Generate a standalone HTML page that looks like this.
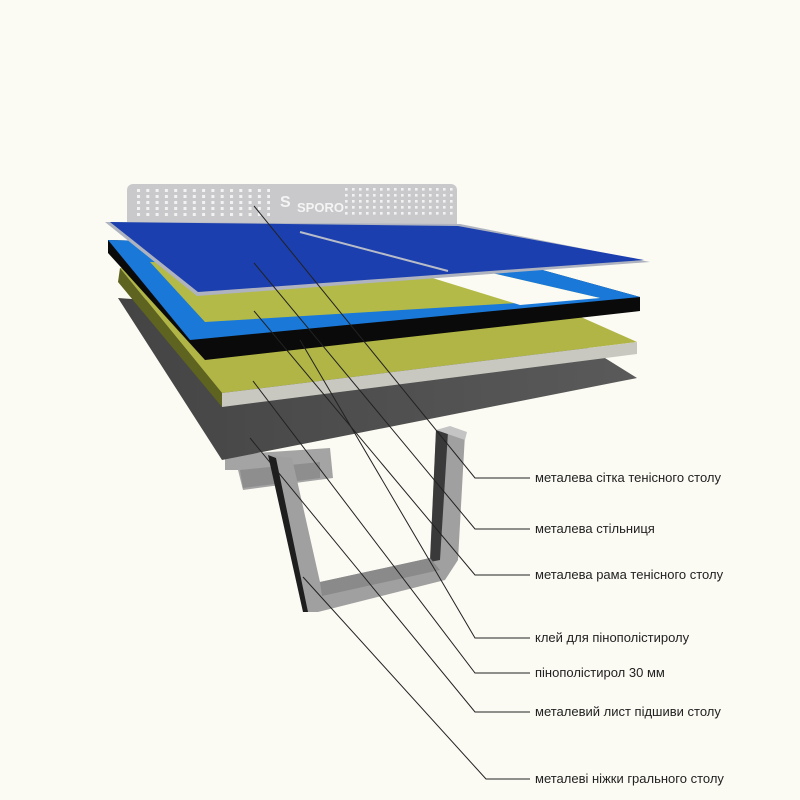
<!DOCTYPE html>
<html><head><meta charset="utf-8"><style>
body{margin:0;background:#fbfaf3;}
svg{display:block}
text{font-family:"Liberation Sans","DejaVu Sans",sans-serif;font-size:13px;fill:#222}
</style></head><body>
<svg width="800" height="800" viewBox="0 0 800 800" xmlns="http://www.w3.org/2000/svg">
<defs>
<pattern id="dl" x="137" y="189" width="9.3" height="6" patternUnits="userSpaceOnUse"><rect width="3" height="3" fill="#f2f2f2"/></pattern>
<pattern id="dr" x="345" y="188" width="7" height="6" patternUnits="userSpaceOnUse"><rect width="2.6" height="2.6" fill="#f2f2f2"/></pattern>
<linearGradient id="gs" x1="0" y1="0" x2="1" y2="0"><stop offset="0" stop-color="#444"/><stop offset="1" stop-color="#5a5a5a"/></linearGradient>
</defs>
<rect width="800" height="800" fill="#fbfaf3"/>
<!-- legs back -->
<polygon points="225,455 330,448 333,478 243,490 238,470 225,470" fill="#a4a4a4"/>
<polygon points="240,470 320,462 320,478 243,488" fill="#8e8e8e"/>
<!-- front leg -->
<polygon points="268,455 292,458 320,582 430,558 436,430 465,434 458,560 445,580 318,612 305,612" fill="#a0a0a0"/>
<polygon points="268,455 276,458 308,612 303,612" fill="#1e1e1e"/>
<polygon points="436,430 448,432 440,560 430,562" fill="#3a3a3a"/>
<polygon points="320,582 430,558 440,570 322,596" fill="#8a8a8a"/>
<polygon points="436,430 450,426 467,432 465,440" fill="#c4c4c4"/>
<!-- gray sheet -->
<polygon points="118,298 560,330 637,378 222,460" fill="url(#gs)"/>
<!-- foam -->
<polygon points="120,268 520,290 637,342 222,393" fill="#b0b545"/>
<polygon points="222,393 637,342 637,354 222,407" fill="#c8c8c0"/>
<polygon points="120,268 222,393 222,407 118,282" fill="#5e6320"/>
<!-- frame -->
<polygon points="108,240 470,250 640,297 640,311 205,360 108,253" fill="#0a0a0a"/>
<polygon points="108,240 470,250 640,297 190,340" fill="#1a78d8"/>
<polygon points="150,262 470,268 600,298 205,322" fill="#b3ba47"/>
<polygon points="400,268 470,268 600,298 520,305" fill="#fbfaf3"/>
<!-- net -->
<rect x="127" y="184" width="330" height="46" rx="6" fill="#c9c9cc"/>
<rect x="137" y="189" width="133" height="30" fill="url(#dl)"/>
<rect x="345" y="188" width="110" height="30" fill="url(#dr)"/>
<text x="297" y="212" style="font-size:13px;font-weight:bold;fill:#f4f4f4">SPORO</text>
<text x="280" y="207" style="font-size:16px;font-weight:bold;fill:#f4f4f4">S</text>
<!-- top board -->
<polygon points="105,222 460,224 650,262 197,296" fill="#aeb3bf"/>
<polygon points="110,222 458,226 644,260 198,292" fill="#1b3fae"/>
<line x1="300" y1="232" x2="448" y2="271" stroke="#b8bcc8" stroke-width="2"/>
<!-- leaders -->
<g fill="none" stroke="#222" stroke-width="1">
<polyline points="254,206 475,478 530,478"/>
<polyline points="254,263 475,529 530,529"/>
<polyline points="254,311 475,575 530,575"/>
<polyline points="300,340 475,638 530,638"/>
<polyline points="253,381 475,673 530,673"/>
<polyline points="250,438 475,712 530,712"/>
<polyline points="303,577 486,779 530,779"/>
</g>
<text x="535" y="482">металева сітка тенісного столу</text>
<text x="535" y="533">металева стільниця</text>
<text x="535" y="579">металева рама тенісного столу</text>
<text x="535" y="642">клей для пінополістиролу</text>
<text x="535" y="677">пінополістирол 30 мм</text>
<text x="535" y="716">металевий лист підшиви столу</text>
<text x="535" y="783">металеві ніжки грального столу</text>
</svg>
</body></html>
